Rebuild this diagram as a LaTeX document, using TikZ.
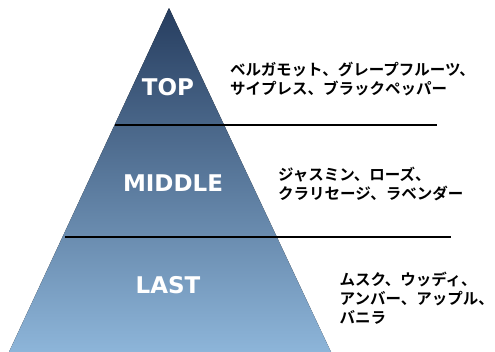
\documentclass[tikz,border=0pt]{standalone}
\usepackage{fontspec}
\newfontfamily\jpfont{Noto Sans CJK JP}[BoldFont={Noto Sans CJK JP Bold}]
\newfontfamily\layerfont{DejaVu Sans}
\usetikzlibrary{positioning, calc}
\definecolor{peaktop}{RGB}{38,61,95}
\definecolor{peakbase}{RGB}{141,181,217}
\tikzset{pyramid/.style={top color=peaktop, bottom color=peakbase, draw=none}}
\tikzset{layer/.style={font=\layerfont\bfseries\fontsize{23}{26}\selectfont, text=white, inner sep=0pt}}
\tikzset{notes/.style={font=\jpfont\bfseries\fontsize{15.5}{19}\selectfont, align=left, anchor=north west, inner sep=0pt}}
\tikzset{divider/.style={line width=1.8pt}}

\begin{document}
\begin{tikzpicture}[x=1pt, y=-1pt]
\useasboundingbox (0,0) rectangle (495,351);
\coordinate (apex) at (169,8);
\coordinate (baseleft) at (9,352);
\coordinate (baseright) at (331,352);
\fill[pyramid] (apex) -- (baseleft) -- (baseright) -- cycle;

\node[layer] (top) at (168,87) {TOP};
\node[layer] (middle) at (173,183) {MIDDLE};
\node[layer] (last) at (168,285) {LAST};

\node[notes] (topnotes) at (230,62) {ベルガモット、グレープフルーツ、\\サイプレス、ブラックペッパー};
\node[notes] (middlenotes) at (278,167) {ジャスミン、ローズ、\\クラリセージ、ラベンダー};
\node[notes] (lastnotes) at (339.5,272) {ムスク、ウッディ、\\アンバー、アップル、\\バニラ};

% dividers between the layers
\coordinate (cut1left) at (115,125);
\coordinate (cut1right) at (437,125);
\coordinate (cut2left) at (65,237);
\coordinate (cut2right) at (451,237);
\draw[divider] (cut1left) -- (cut1right);
\draw[divider] (cut2left) -- (cut2right);
\end{tikzpicture}
\end{document}
